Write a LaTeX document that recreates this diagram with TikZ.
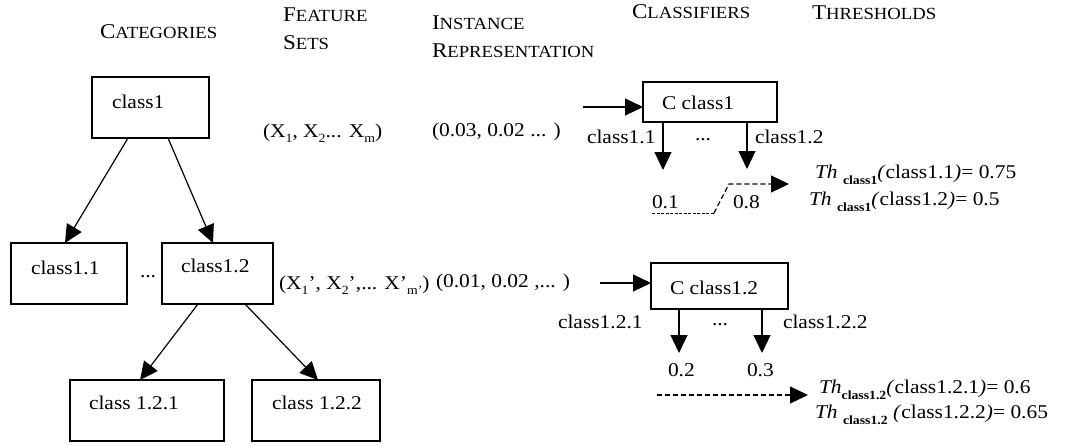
\documentclass[tikz,border=0pt]{standalone}
\usepackage{fontspec}
\setmainfont{Liberation Serif}[FakeStretch=1.1]
\usetikzlibrary{arrows.meta,calc}

% column headings in small capitals
\newcommand\hsc[2]{{\fontsize{21}{22}\selectfont #1}{\fontsize{17}{18}\selectfont #2}}
% small subscripts
\newcommand\lo[1]{\raisebox{-0.28em}{\fontsize{12.5}{12}\selectfont #1}}
\newcommand\blo[1]{\raisebox{-0.28em}{\fontsize{12.5}{12}\selectfont\bfseries #1}}

\begin{document}
\begin{tikzpicture}[x=1pt,y=-1pt,
  every node/.style={inner sep=0pt,outer sep=0pt},
  txt/.style={anchor=west,font=\fontsize{19.5}{21}\selectfont},
  box/.style={draw,line width=1.6pt},
  arr/.style={-{Triangle[length=18pt,width=17pt]},line width=1.2pt},
  darr/.style={-{Triangle[length=18pt,width=17pt]},line width=1.2pt,dash pattern=on 5pt off 3pt},
  thindash/.style={line width=0.6pt,dash pattern=on 3pt off 1.5pt}]
\useasboundingbox (0,0) rectangle (1074,445);

% headings
\node[anchor=west] (hcat) at (100,32) {\hsc{C}{ATEGORIES}};
\node[anchor=west] (hfs1) at (283,15) {\hsc{F}{EATURE}};
\node[anchor=west] (hfs2) at (283,43) {\hsc{S}{ETS}};
\node[anchor=west] (hin1) at (432,23) {\hsc{I}{NSTANCE}};
\node[anchor=west] (hin2) at (432,51) {\hsc{R}{EPRESENTATION}};
\node[anchor=west] (hcl) at (632,12) {\hsc{C}{LASSIFIERS}};
\node[anchor=west] (hth) at (812,13) {\hsc{T}{HRESHOLDS}};

% category tree
\node[box,minimum width=117pt,minimum height=61pt] (c1) at (150.5,107.5) {};
\node[txt] (c1t) at (112,102) {class1};
\node[box,minimum width=116pt,minimum height=61pt] (c11) at (69,273.5) {};
\node[txt] (c11t) at (31,268) {class1.1};
\node[txt] (dots0) at (140,277) {...};
\node[box,minimum width=111pt,minimum height=61pt] (c12) at (217.5,273.5) {};
\node[txt] (c12t) at (181,266) {class1.2};
\node[box,minimum width=154pt,minimum height=61pt] (c121) at (147,410.5) {};
\node[txt] (c121t) at (89,403) {class 1.2.1};
\node[box,minimum width=128pt,minimum height=61pt] (c122) at (316,410.5) {};
\node[txt] (c122t) at (272,403) {class 1.2.2};

\draw[arr] ($(c1.south west)+(36,0)$) -- ($(c11.north west)+(54,0)$);
\draw[arr] ($(c1.south west)+(76,0)$) -- ($(c12.north west)+(51,0)$);
\draw[arr] ($(c12.south west)+(36,0)$) -- ($(c121.north west)+(70,0)$);
\draw[arr] ($(c12.south west)+(83,0)$) -- ($(c122.north west)+(66,0)$);

% feature sets and instances
\node[txt] (fs1) at (263,133) {(X\lo{1}, X\lo{2}... X\lo{m})};
\node[txt] (in1t) at (432,132) {(0.03, 0.02 ... )};
\node[txt] (fs2) at (279,285) {(X\lo{1}’, X\lo{2}’,... X’\lo{m’})};
\node[txt] (in2t) at (436,283) {(0.01, 0.02 ,... )};

% first classifier
\node[box,minimum width=134pt,minimum height=40pt] (cc1) at (710,102) {};
\node[txt] (cc1t) at (662,103) {C class1};
\coordinate (in1) at (583,107);
\draw[arr] (in1) -- (in1 -| cc1.west);
\coordinate (d11) at (663,170);
\coordinate (d12) at (747,169);
\draw[arr] (d11 |- cc1.south) -- (d11);
\draw[arr] (d12 |- cc1.south) -- (d12);
\node[txt] (l11) at (587,137) {class1.1};
\node[txt] (l1d) at (695,140) {...};
\node[txt] (l12) at (755,137) {class1.2};
\node[txt] (v01) at (652,202) {0.1};
\node[txt] (v08) at (733,202) {0.8};
\coordinate (u0) at (652,213);
\coordinate (u1) at (714,213);
\coordinate (k1) at (729,184);
\coordinate (th1) at (789,184);
\draw[thindash] (u0) -- (u1);
\draw[darr] (u1) -- (k1) -- (th1);
\node[txt] (th11) at (815,175) {\textit{Th} \blo{class1}\textit{(}class1.1\textit{)}= 0.75};
\node[txt] (th12) at (809,202) {\textit{Th} \blo{class1}\textit{(}class1.2\textit{)}= 0.5};

% second classifier
\node[box,minimum width=137pt,minimum height=46pt] (cc2) at (719.5,286) {};
\node[txt] (cc2t) at (670,288) {C class1.2};
\coordinate (in2) at (600,283);
\draw[arr] (in2) -- (in2 -| cc2.west);
\coordinate (d21) at (679,353);
\coordinate (d22) at (762,353);
\draw[arr] (d21 |- cc2.south) -- (d21);
\draw[arr] (d22 |- cc2.south) -- (d22);
\node[txt] (l21) at (558,322) {class1.2.1};
\node[txt] (l2d) at (712,325) {...};
\node[txt] (l22) at (783,322) {class1.2.2};
\node[txt] (v02) at (668,370) {0.2};
\node[txt] (v03) at (747,370) {0.3};
\coordinate (s2) at (657,395);
\coordinate (th2) at (808,395);
\draw[darr] (s2) -- (th2);
\node[txt] (th21) at (819,390) {\textit{Th}\blo{class1.2}\textit{(}class1.2.1\textit{)}= 0.6};
\node[txt] (th22) at (815,415) {\textit{Th} \blo{class1.2} \textit{(}class1.2.2\textit{)}= 0.65};
\end{tikzpicture}
\end{document}
